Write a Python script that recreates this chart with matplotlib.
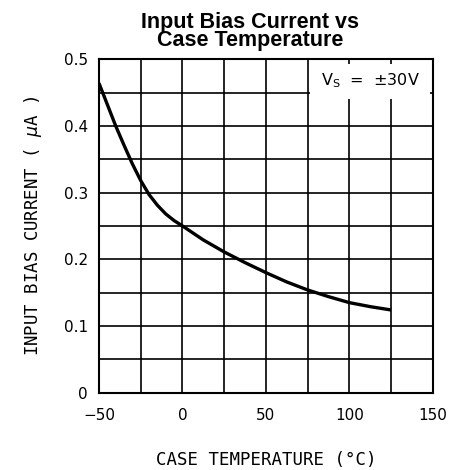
import matplotlib
matplotlib.use('Agg')
import matplotlib.pyplot as plt
from matplotlib.patches import Rectangle

# 읽어낸 곡선 값 (온도 °C, 전류 uA)
temp = [-50, -45, -40, -35, -30, -25, -20, -15, -10, -5, 0, 12.5, 25, 37.5, 50, 62.5, 75, 87.5, 100, 112.5, 125]
bias = [0.464, 0.432, 0.400, 0.371, 0.343, 0.318, 0.297, 0.281, 0.268, 0.258, 0.250, 0.229, 0.211, 0.195, 0.180, 0.166, 0.154, 0.144, 0.135, 0.129, 0.124]

xticks = [-50, 0, 50, 100, 150]
yticks = [0, 0.1, 0.2, 0.3, 0.4, 0.5]
yticklabels = ['0', '0.1', '0.2', '0.3', '0.4', '0.5']

plt.rcParams['font.family'] = ['DejaVu Sans']
plt.rcParams['mathtext.fontset'] = 'dejavusans'

fig = plt.figure(figsize=(4.5, 4.7), dpi=100)
ax = fig.add_axes([0.22, 0.1645, 0.742, 0.7095])

ax.set_xlim(-50, 150)
ax.set_ylim(0, 0.5)

# 격자
for gx in range(-25, 150, 25):
    ax.axvline(gx, color='black', lw=1.2, zorder=1)
for k in range(1, 10):
    ax.axhline(k * 0.05, color='black', lw=1.2, zorder=1)

# 범례 상자 (격자 가림)
ax.add_patch(Rectangle((76.5, 0.441), 71.5, 0.052, facecolor='white', edgecolor='none', zorder=2))
ax.text(112.5, 0.468, r'$\mathrm{V_S}$  =  ±30V', ha='center', va='center', fontsize=11.5, zorder=3)

ax.plot(temp, bias, color='black', lw=2.4, zorder=4, solid_capstyle='butt')

for s in ax.spines.values():
    s.set_linewidth(1.5)
    s.set_color('black')
    s.set_zorder(5)

ax.set_xticks(xticks)
ax.set_xticklabels(['\u221250', '0', '50', '100', '150'])
ax.set_yticks(yticks)
ax.set_yticklabels(yticklabels)
ax.tick_params(length=0, labelsize=11, pad=8)
ax.tick_params(axis='x', pad=11)

ax.set_xlabel('CASE TEMPERATURE (°C)', fontsize=12.5, labelpad=20, family='DejaVu Sans Mono')
ax.set_ylabel('INPUT BIAS CURRENT ( $\\mu$A )', fontsize=12.5, labelpad=14, family='DejaVu Sans Mono')

fig.text(0.555, 0.974, 'Input Bias Current vs\nCase Temperature', ha='center', va='top',
         fontsize=15.5, fontweight='bold', family='Liberation Sans', linespacing=0.78)

plt.savefig('out.png', dpi=100)
